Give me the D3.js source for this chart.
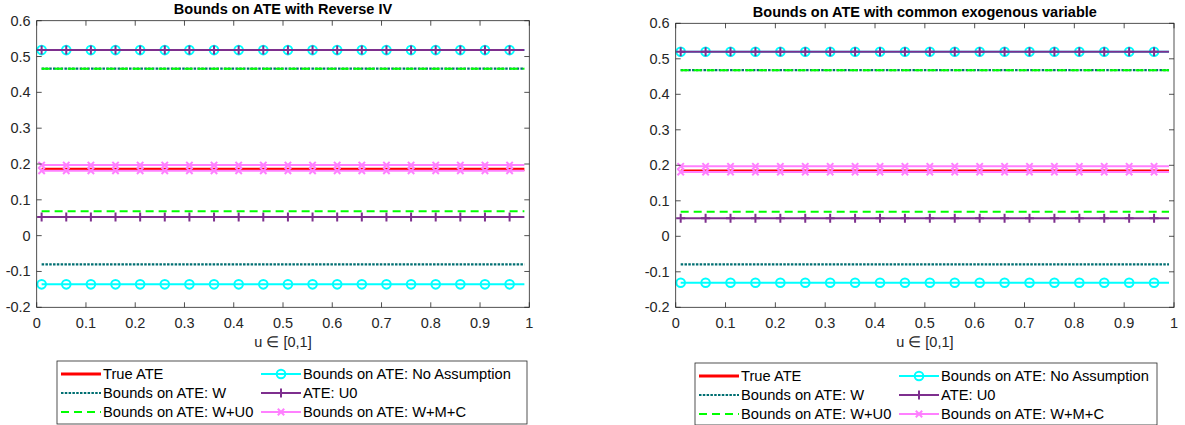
<!DOCTYPE html>
<html><head><meta charset="utf-8">
<script src="https://cdn.jsdelivr.net/npm/d3@7"></script>
<style>
body{margin:0;background:#fff;}
svg{display:block;font-family:"Liberation Sans",Arial,sans-serif;}
</style></head>
<body><svg id="c" width="1185" height="425"></svg>
<script>
// ---- data ----
const titles = ["Bounds on ATE with Reverse IV", "Bounds on ATE with common exogenous variable"];
const xLabel = "u \u2208 [0,1]";
const xTicks = [0,0.1,0.2,0.3,0.4,0.5,0.6,0.7,0.8,0.9,1];
const yTicks = [-0.2,-0.1,0,0.1,0.2,0.3,0.4,0.5,0.6];
const uRange = [0.01, 0.99];
const markerU = [0.01,0.06,0.11,0.16,0.21,0.26,0.31,0.36,0.41,0.46,0.51,0.56,0.61,0.66,0.71,0.76,0.81,0.86,0.91,0.96];
const seriesNames = ["True ATE","Bounds on ATE: No Assumption","Bounds on ATE: W","ATE: U0","Bounds on ATE: W+U0","Bounds on ATE: W+M+C"];
// values per series (one or two constant levels), per panel
const trueATE      = [[0.185],[0.184]];
const boundsNoAssm = [[0.518,-0.136],[0.520,-0.131]];
const boundsW      = [[0.466,-0.080],[0.468,-0.079]];
const ateU0        = [[0.518,0.052],[0.520,0.051]];
const boundsWU0    = [[0.466,0.068],[0.468,0.069]];
const boundsWMC    = [[0.197,0.181],[0.197,0.181]];

// ---- styles ----
const styles = [
  {color:"#ff0000", width:3.2, dash:null, marker:null},
  {color:"#00ffff", width:2, dash:null, marker:"o"},
  {color:"#006f72", width:2.2, dash:"2.5,1.3", marker:null},
  {color:"#7e2f8e", width:2, dash:null, marker:"+"},
  {color:"#00ff00", width:2, dash:"8,5", marker:null},
  {color:"#ff80ff", width:2, dash:null, marker:"x"}
];
const allSeries = [trueATE, boundsNoAssm, boundsW, ateU0, boundsWU0, boundsWMC];

const panels = [
  {left:36.7, right:529.3, top:20.7, bottom:307.3, titleY:13.5, legend:{x:57,y:361,w:470,h:63}},
  {left:675.7, right:1174, top:23.3, bottom:307.3, titleY:16.5, legend:{x:695,y:363,w:462,h:62}}
];

const svg = d3.select("#c");
const axisCol = "#262626";
const fs = 14.5;

function drawMarker(g, type, x, y, color){
  if(type==="o"){
    g.append("circle").attr("cx",x).attr("cy",y).attr("r",4.3)
      .attr("fill","none").attr("stroke",color).attr("stroke-width",2);
  } else if(type==="+"){
    const s=4.5;
    g.append("path").attr("d",`M${x-s},${y}H${x+s}M${x},${y-s}V${y+s}`)
      .attr("stroke",color).attr("stroke-width",2).attr("fill","none");
  } else if(type==="x"){
    const s=3.2;
    g.append("path").attr("d",`M${x-s},${y-s}L${x+s},${y+s}M${x-s},${y+s}L${x+s},${y-s}`)
      .attr("stroke",color).attr("stroke-width",2).attr("fill","none");
  }
}

panels.forEach((p, pi) => {
  const x = d3.scaleLinear().domain([0,1]).range([p.left, p.right]);
  const y = d3.scaleLinear().domain([-0.2,0.6]).range([p.bottom, p.top]);
  const g = svg.append("g");

  // series
  allSeries.forEach((ser, si) => {
    const st = styles[si];
    const levels = ser[pi];
    levels.forEach(v => {
      const line = d3.line().x(d=>x(d)).y(()=>y(v));
      const path = g.append("path").datum(uRange).attr("d", line)
        .attr("fill","none").attr("stroke",st.color).attr("stroke-width",st.width);
      if(st.dash) path.attr("stroke-dasharray", st.dash);
      if(st.marker){
        markerU.forEach(u => drawMarker(g, st.marker, x(u), y(v), st.color));
      }
    });
  });

  // axes
  const tickLen = 5;
  const ax = svg.append("g").attr("font-size",fs).attr("fill",axisCol);
  ax.append("rect").attr("x",p.left).attr("y",p.top).attr("width",p.right-p.left).attr("height",p.bottom-p.top)
    .attr("fill","none").attr("stroke",axisCol).attr("stroke-width",0.8);
  xTicks.forEach(t => {
    ax.append("path").attr("d",`M${x(t)},${p.bottom}V${p.bottom-tickLen}M${x(t)},${p.top}V${p.top+tickLen}`)
      .attr("stroke",axisCol).attr("stroke-width",0.8);
    ax.append("text").attr("x",x(t)).attr("y",p.bottom+21).attr("text-anchor","middle").text(String(t));
  });
  yTicks.forEach(t => {
    ax.append("path").attr("d",`M${p.left},${y(t)}H${p.left+tickLen}M${p.right},${y(t)}H${p.right-tickLen}`)
      .attr("stroke",axisCol).attr("stroke-width",0.8);
    ax.append("text").attr("x",p.left-6).attr("y",y(t)+5).attr("text-anchor","end").text(Math.round(t*10)/10);
  });
  ax.append("text").attr("x",(p.left+p.right)/2).attr("y",p.bottom+40).attr("text-anchor","middle").text(xLabel);
  svg.append("text").attr("x",(p.left+p.right)/2).attr("y",p.titleY).attr("text-anchor","middle")
    .attr("font-size",fs).attr("font-weight","bold").attr("fill","#000").text(titles[pi]);

  // legend
  const L = p.legend;
  const lg = svg.append("g");
  lg.append("rect").attr("x",L.x).attr("y",L.y).attr("width",L.w).attr("height",L.h)
    .attr("fill","#fff").attr("stroke",axisCol).attr("stroke-width",0.8);
  const colX = [L.x+4, L.x+204];
  seriesNames.forEach((name, i) => {
    const col = i%2, row = Math.floor(i/2);
    const cy = L.y + 13 + row*19;
    const x0 = colX[col], x1 = x0+40;
    const st = styles[i];
    const sp = lg.append("path").attr("d",`M${x0},${cy}H${x1}`).attr("stroke",st.color)
      .attr("stroke-width",st.width).attr("fill","none");
    if(st.dash) sp.attr("stroke-dasharray", st.dash);
    if(st.marker) drawMarker(lg, st.marker, (x0+x1)/2, cy, st.color);
    lg.append("text").attr("x",x1+2).attr("y",cy+5.2).attr("font-size",14.7).attr("fill","#000").text(name);
  });
});
</script></body></html>
